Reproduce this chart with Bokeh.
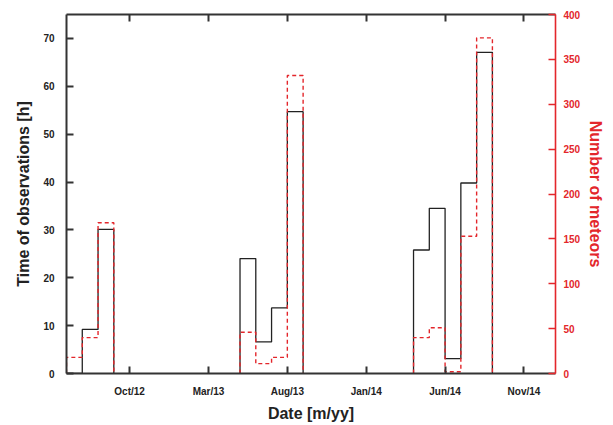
from bokeh.plotting import figure
from bokeh.models import Range1d, LinearAxis, FixedTicker
from bokeh.embed import file_html
from bokeh.resources import INLINE

# ---- data (monthly bins) ----
months = ["2012-06", "2012-07", "2012-08",
          "2013-05", "2013-06", "2013-07", "2013-08",
          "2014-04", "2014-05", "2014-06", "2014-07", "2014-08"]
hours = [0, 9.2, 30.1, 24.0, 6.6, 13.7, 54.7, 25.8, 34.5, 3.1, 39.8, 67.1]
meteors = [18, 40, 168, 46, 11, 18, 332, 40, 51, 2, 153, 374]

tick_labels = ["Oct/12", "Mar/13", "Aug/13", "Jan/14", "Jun/14", "Nov/14"]
x_start, x_end = "2012-06", "2015-01"


def midx(s):
    y, m = s.split("-")
    return (int(y) - 2012) * 12 + int(m) - 1


def lab_idx(s):
    mon, yy = s.split("/")
    names = ["Jan", "Feb", "Mar", "Apr", "May", "Jun", "Jul", "Aug", "Sep", "Oct", "Nov", "Dec"]
    return (2000 + int(yy) - 2012) * 12 + names.index(mon)


mi = [midx(m) for m in months]


def outlines(vals):
    xs_all, ys_all = [], []
    xs, ys = [], []
    prev = None
    for m, v in zip(mi, vals):
        if prev is None or m != prev + 1:
            if xs:
                xs += [prev + 1]
                ys += [0]
                xs_all.append(xs)
                ys_all.append(ys)
            xs, ys = [m], [0]
        xs += [m, m + 1]
        ys += [v, v]
        prev = m
    xs += [prev + 1]
    ys += [0]
    xs_all.append(xs)
    ys_all.append(ys)
    return xs_all, ys_all


FONT = "Liberation Sans"
RED = "#e3262b"

p = figure(width=613, height=425,
           min_border_left=66, min_border_top=14, min_border_right=58, min_border_bottom=52,
           x_range=Range1d(midx(x_start), midx(x_end)), y_range=Range1d(0, 75),
           output_backend="svg", toolbar_location=None)
p.extra_y_ranges = {"met": Range1d(0, 400)}
p.grid.visible = False
p.outline_line_color = None
p.background_fill_color = "white"

hx, hy = outlines(hours)
p.multi_line(hx, hy, line_color="#222222", line_width=1.3)
rx, ry = outlines(meteors)
p.multi_line(rx, ry, line_color=RED, line_width=1.4, line_dash="4 3", y_range_name="met")

xt = [lab_idx(t) for t in tick_labels]

# bottom axis
xa = p.xaxis[0]
xa.ticker = FixedTicker(ticks=xt)
xa.major_label_overrides = {t: l for t, l in zip(xt, tick_labels)}
xa.axis_label = "Date [m/yy]"

# left axis
ya = p.yaxis[0]
ya.ticker = FixedTicker(ticks=list(range(0, 71, 10)))
ya.axis_label = "Time of observations [h]"

for ax in (xa, ya):
    ax.axis_line_color = "#333333"
    ax.axis_line_width = 2
    ax.major_tick_line_color = "#333333"
    ax.major_tick_line_width = 2
    ax.major_tick_in = 7
    ax.major_tick_out = 0
    ax.minor_tick_line_color = None
    ax.major_label_text_font = FONT
    ax.major_label_text_font_style = "bold"
    ax.major_label_text_font_size = "10px"
    ax.major_label_text_color = "#222222"
    ax.axis_label_text_font = FONT
    ax.axis_label_text_font_style = "bold"
    ax.axis_label_text_font_size = "16px"
    ax.axis_label_text_color = "#222222"

xa.major_label_standoff = 12
xa.axis_label_standoff = 5
ya.major_label_standoff = 12
ya.axis_label_standoff = 8

# top axis (ticks only)
top = LinearAxis(ticker=FixedTicker(ticks=xt))
top.major_label_text_color = None
top.major_label_text_font_size = "5px"
top.major_label_standoff = 0
top.axis_line_color = "#333333"
top.axis_line_width = 2
top.major_tick_line_color = "#333333"
top.major_tick_line_width = 2
top.major_tick_in = 7
top.major_tick_out = 0
top.minor_tick_line_color = None
p.add_layout(top, "above")

# right axis (meteors)
ra = LinearAxis(y_range_name="met", ticker=FixedTicker(ticks=list(range(0, 401, 50))),
                axis_label="Number of meteors")
ra.axis_line_color = RED
ra.axis_line_width = 1.6
ra.major_tick_line_color = RED
ra.major_tick_line_width = 1.6
ra.major_tick_in = 7
ra.major_tick_out = 0
ra.minor_tick_line_color = None
ra.major_label_text_font = FONT
ra.major_label_text_font_style = "bold"
ra.major_label_text_font_size = "10px"
ra.major_label_text_color = RED
ra.major_label_standoff = 8
ra.axis_label_text_font = FONT
ra.axis_label_text_font_style = "bold"
ra.axis_label_text_font_size = "16px"
ra.axis_label_text_color = RED
ra.axis_label_standoff = 4
p.add_layout(ra, "right")

open("out.html", "w").write(file_html(p, INLINE))
